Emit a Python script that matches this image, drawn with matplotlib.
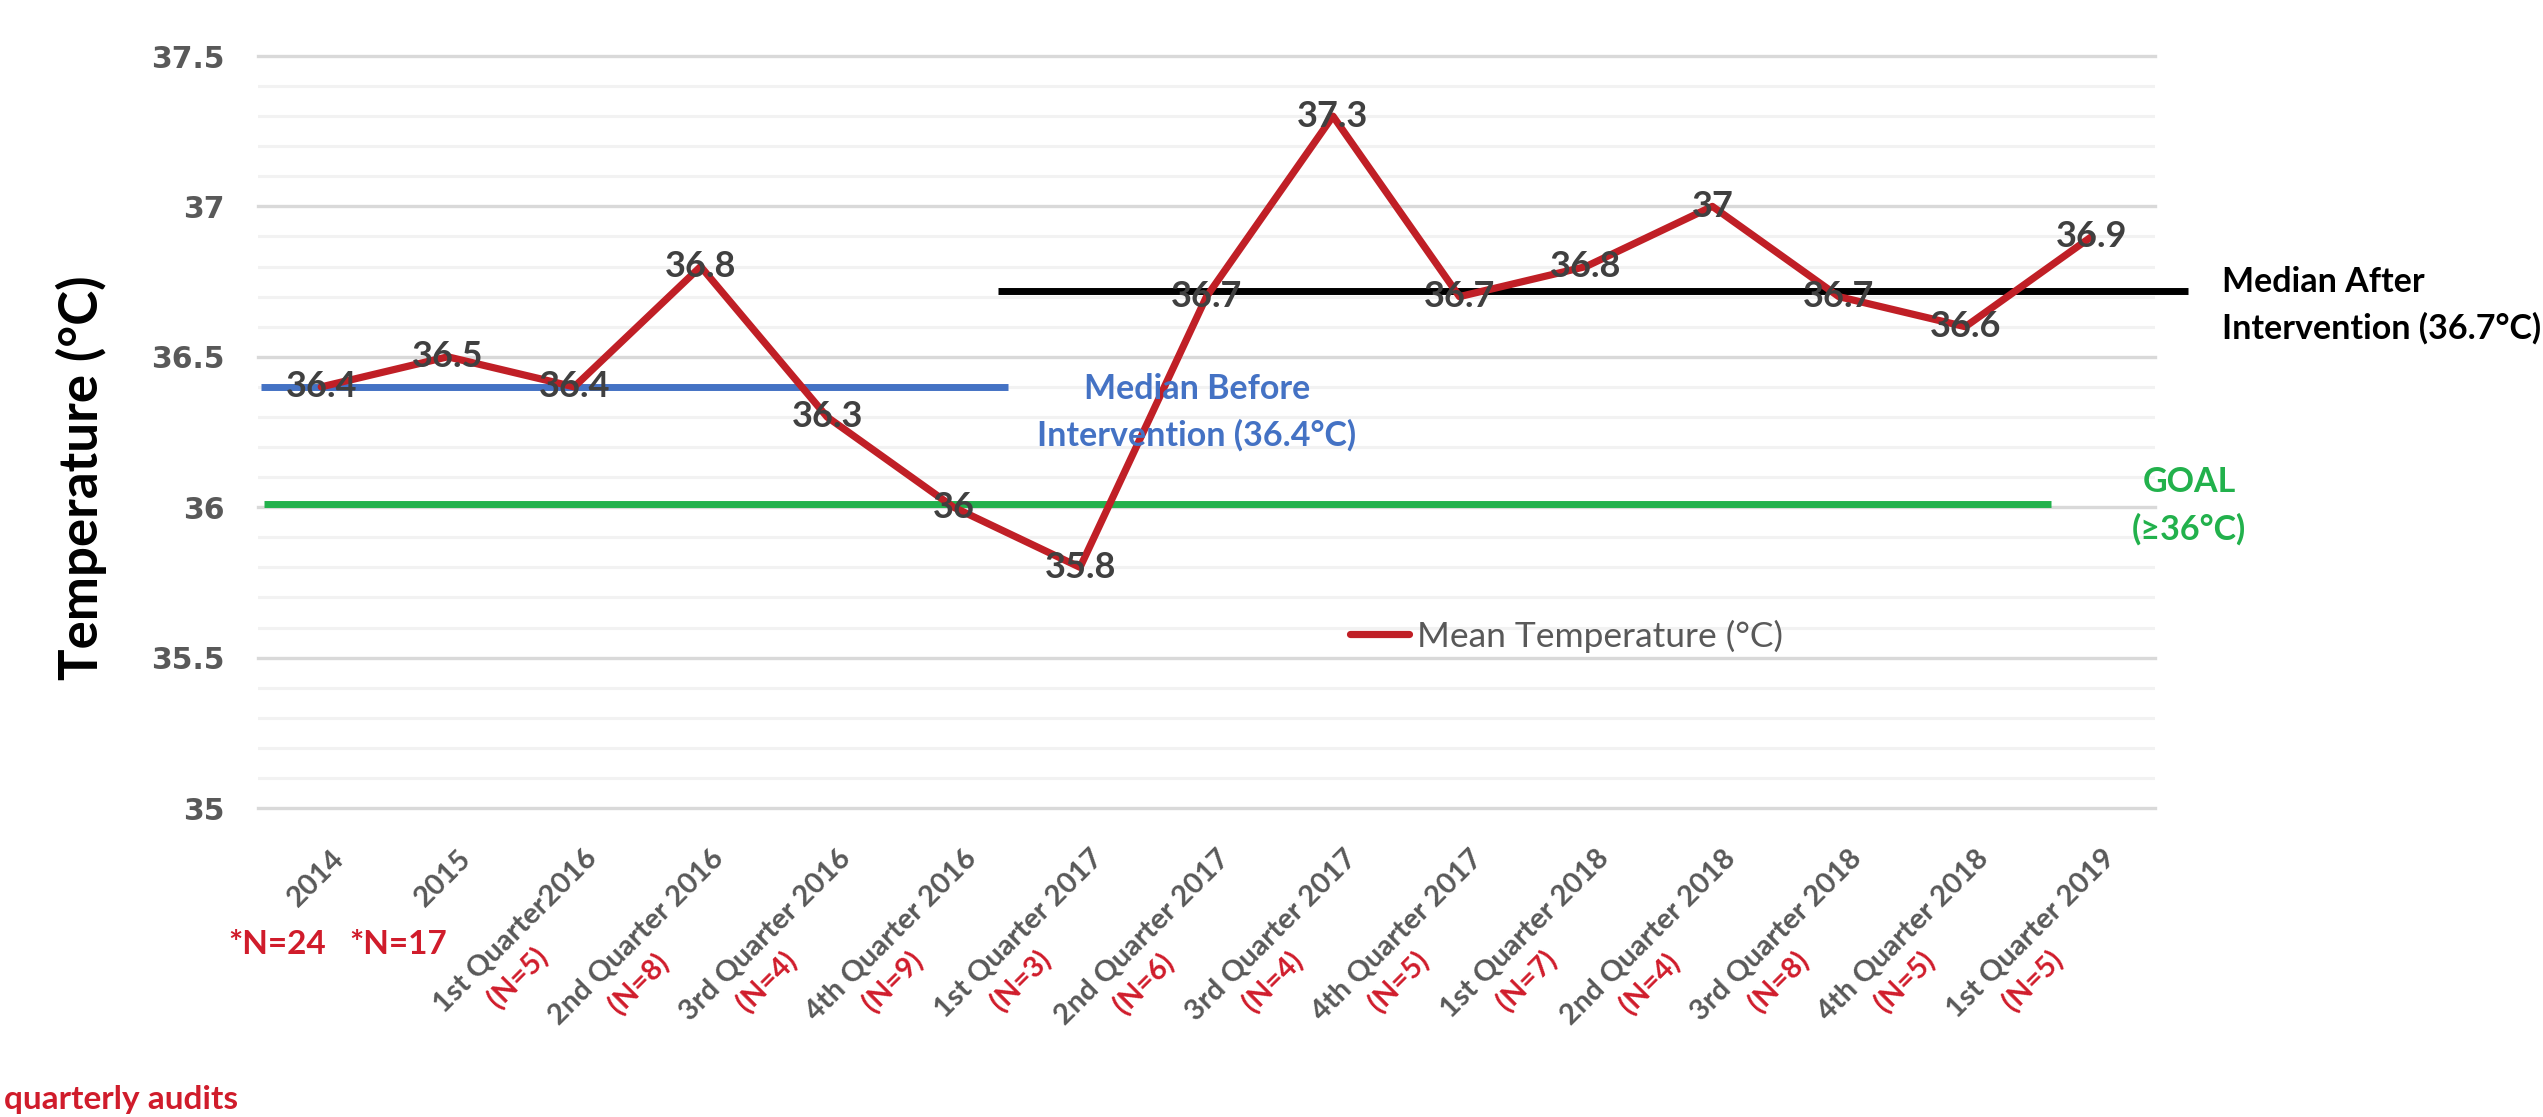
import matplotlib
matplotlib.use("Agg")
import matplotlib.pyplot as plt
from matplotlib.lines import Line2D
from matplotlib.ticker import MultipleLocator

# ---------------- data ----------------
categories = ["2014", "2015", "1st Quarter2016", "2nd Quarter 2016", "3rd Quarter 2016",
              "4th Quarter 2016", "1st Quarter 2017", "2nd Quarter 2017", "3rd Quarter 2017",
              "4th Quarter 2017", "1st Quarter 2018", "2nd Quarter 2018", "3rd Quarter 2018",
              "4th Quarter 2018", "1st Quarter 2019"]
mean_temp = [36.4, 36.5, 36.4, 36.8, 36.3, 36.0, 35.8, 36.7, 37.3, 36.7, 36.8, 37.0, 36.7, 36.6, 36.9]
n_labels = ["", "", "(N=5)", "(N=8)", "(N=4)", "(N=9)", "(N=3)", "(N=6)", "(N=4)",
            "(N=5)", "(N=7)", "(N=4)", "(N=8)", "(N=5)", "(N=5)"]
annual_n = ["*N=24", "*N=17"]
median_before_level = 36.4
median_after_level = 36.72
goal_level = 36.01
y_major = [35, 35.5, 36, 36.5, 37, 37.5]

# ---------------- style ----------------
W, H = 2543, 1117
plt.rcParams['font.family'] = ['Lato', 'DejaVu Sans']
RED_LINE = '#c01f26'
RED_TXT = '#d01c2b'
BLUE = '#4472c4'
GREEN = '#22b14c'
GRAY = '#595959'
DARK = '#404040'

fig = plt.figure(figsize=(W / 100, H / 100), dpi=100)
fig.patch.set_facecolor('white')

def F(x, y):
    return (x / W, 1 - y / H)

ax_left, ax_right, ax_top, ax_bot = 258, 2155, 56, 808
ax = fig.add_axes([ax_left / W, 1 - ax_bot / H, (ax_right - ax_left) / W, (ax_bot - ax_top) / H])
ax.set_xlim(-0.5, len(categories) - 0.5)
ax.set_ylim(35, 37.5)
for s in ax.spines.values():
    s.set_visible(False)

ax.set_yticks(y_major)
ax.set_yticklabels([f"{v:g}" for v in y_major], family='DejaVu Sans', fontweight='bold',
                   fontsize=21.5, color=GRAY)
ax.yaxis.set_minor_locator(MultipleLocator(0.1))
ax.tick_params(axis='y', which='both', length=0, pad=24)
ax.set_xticks(range(len(categories)))
ax.set_xticklabels([])
ax.tick_params(axis='x', length=0)
ax.set_axisbelow(True)
ax.grid(axis='y', which='minor', color='#f2f2f2', lw=2.2)
ax.grid(axis='y', which='major', color='#d9d9d9', lw=2.4)
for gl in ax.get_ygridlines():
    gl.set_clip_on(False)

# ---------------- reference lines ----------------
ax.plot([-0.48, 5.43], [median_before_level] * 2, color=BLUE, lw=5, solid_capstyle='butt', zorder=2)
ax.plot([5.35, 14.76], [median_after_level] * 2, color='black', lw=5, solid_capstyle='butt',
        zorder=2, clip_on=False)
ax.plot([-0.45, 13.68], [goal_level] * 2, color=GREEN, lw=5, solid_capstyle='butt', zorder=2)

# ---------------- main series ----------------
x = list(range(len(categories)))
ax.plot(x, mean_temp, color=RED_LINE, lw=5.2, solid_joinstyle='round', solid_capstyle='round',
        zorder=3)
for xi, v in zip(x, mean_temp):
    ax.text(xi, v, f"{v:g}", ha='center', va='center', fontsize=26, fontweight='bold',
            color=DARK, zorder=5)

# ---------------- x labels ----------------
px2pt = 0.72
for i, (cat, nl) in enumerate(zip(categories, n_labels)):
    t = ax.annotate(cat, xy=(i, 0), xycoords=ax.get_xaxis_transform(),
                    xytext=(10 * px2pt, -37 * px2pt), textcoords='offset points',
                    ha='right', va='top', rotation=45, rotation_mode='anchor',
                    fontsize=21, fontweight='bold', color=GRAY, annotation_clip=False)
    if nl:
        ax.annotate(nl, xy=(0.5, 0.5), xycoords=t, xytext=(2 * px2pt, -47 * px2pt),
                    textcoords='offset points', ha='center', va='center', rotation=45,
                    rotation_mode='anchor', fontsize=21, fontweight='bold', color=RED_TXT,
                    annotation_clip=False)

# annual sample sizes
fig.text(*F(277, 945), annual_n[0], ha='center', va='center', fontsize=24, fontweight='bold',
         color=RED_TXT)
fig.text(*F(398, 945), annual_n[1], ha='center', va='center', fontsize=24, fontweight='bold',
         color=RED_TXT)
fig.text(*F(4, 1100), "quarterly audits", ha='left', va='center', fontsize=24,
         fontweight='bold', color=RED_TXT)

# ---------------- annotations ----------------
AFS = 24.5
fig.text(*F(1197, 389), "Median Before", ha='center', va='center', fontsize=AFS,
         fontweight='bold', color=BLUE)
fig.text(*F(1197, 435), "Intervention (36.4°C)", ha='center', va='center', fontsize=AFS,
         fontweight='bold', color=BLUE)
fig.text(*F(2222, 282), "Median After", ha='left', va='center', fontsize=AFS,
         fontweight='bold', color='black')
fig.text(*F(2222, 328), "Intervention (36.7°C)", ha='left', va='center', fontsize=AFS,
         fontweight='bold', color='black')
fig.text(*F(2189, 482), "GOAL", ha='center', va='center', fontsize=AFS,
         fontweight='bold', color=GREEN)
fig.text(*F(2189, 529), "(≥36°C)", ha='center', va='center', fontsize=AFS,
         fontweight='bold', color=GREEN)

# y axis title
fig.text(*F(81, 478), "Temperature (°C)", rotation=90, ha='center', va='center', fontsize=38,
         fontweight='bold', color='black')

# legend
handle = Line2D([], [], color=RED_LINE, lw=5.2, solid_capstyle='round')
leg = ax.legend([handle], ["Mean Temperature (°C)"], loc='center left',
                bbox_to_anchor=F(1350, 636), bbox_transform=fig.transFigure, frameon=False,
                fontsize=25.5, handlelength=1.66, handletextpad=0.23, borderpad=0,
                borderaxespad=0, labelcolor=GRAY)

fig.savefig("out.png", dpi=100, facecolor='white')
